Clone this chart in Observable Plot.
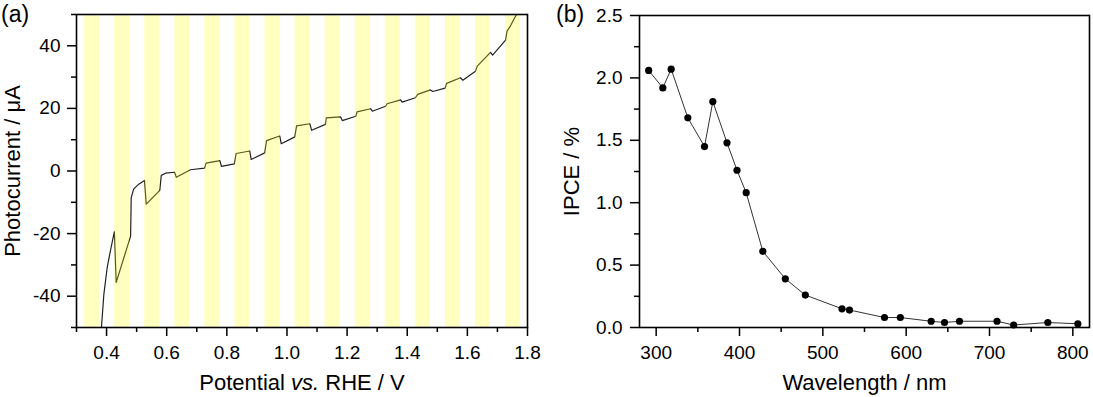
<!DOCTYPE html>
<html>
<head>
<meta charset="utf-8">
<script src="https://cdn.jsdelivr.net/npm/d3@7"></script>
<script src="https://cdn.jsdelivr.net/npm/@observablehq/plot@0.6"></script>
<style>
  body { margin: 0; background: #fff; }
  #wrap { position: relative; width: 1093px; height: 397px; display: flex; font-family: "Liberation Sans", Arial, sans-serif; }
  .panel { position: absolute; top: 1px; font-size: 23px; color: #000; }
</style>
</head>
<body>
<div id="wrap">
  <div id="left"></div>
  <div id="right"></div>
  <div class="panel" style="left:1px">(a)</div>
  <div class="panel" style="left:556px">(b)</div>
</div>
<script>
// ---- Panel (a): chopped photocurrent ----
const potential = [0.383,0.391,0.402,0.413,0.426,0.432,0.480,0.482,0.490,0.507,0.526,0.532,0.577,0.582,0.596,0.626,0.632,0.679,0.726,0.731,0.777,0.782,0.825,0.831,0.876,0.881,0.926,0.932,0.976,0.981,1.026,1.032,1.076,1.082,1.128,1.131,1.178,1.184,1.229,1.233,1.278,1.284,1.328,1.333,1.378,1.383,1.427,1.435,1.477,1.485,1.526,1.531,1.577,1.585,1.627,1.633,1.677,1.684,1.727,1.732,1.743,1.766];
const photocurrent = [-50,-39.4,-30.9,-25.4,-19.4,-35.6,-20.8,-8.5,-5.8,-4.2,-3.0,-10.6,-6.2,-1.4,-0.7,-0.4,-2.0,0.4,0.9,2.5,3.3,1.5,2.3,5.6,6.4,3.7,5.8,9.7,11.2,8.7,10.9,14.4,15.1,13.0,14.9,17.0,17.3,16.1,17.5,18.9,19.9,19.1,20.7,21.5,22.7,22.0,23.4,24.5,25.9,25.4,26.5,28.0,29.8,29.0,31.9,33.5,37.9,37.0,41.8,44.7,46.3,50.5];
const lightOn  = [0.327,0.427,0.527,0.627,0.727,0.827,0.927,1.027,1.127,1.227,1.327,1.427,1.527,1.627,1.727];
const lightOff = [0.377,0.477,0.577,0.677,0.777,0.877,0.977,1.077,1.177,1.277,1.377,1.477,1.577,1.677,1.777];
const xTicksA = [0.4,0.6,0.8,1.0,1.2,1.4,1.6,1.8];
const xMinorA = [0.3,0.5,0.7,0.9,1.1,1.3,1.5,1.7];
const yTicksA = [-40,-20,0,20,40];
const yMinorA = [-50,-30,-10,10,30,50];

// ---- Panel (b): IPCE ----
const wavelength = [291,308,318,338,358,368,385,397,408,428,455,479,523,532,574,593,630,646,664,709,729,770,806];
const ipce = [2.06,1.92,2.07,1.68,1.45,1.81,1.48,1.26,1.08,0.61,0.39,0.26,0.15,0.14,0.08,0.08,0.05,0.04,0.05,0.05,0.02,0.04,0.03];
const xTicksB = [300,400,500,600,700,800];
const xMinorB = [350,450,550,650,750];
const yTicksB = [0,0.5,1.0,1.5,2.0,2.5];
const yMinorB = [0.25,0.75,1.25,1.75,2.25];

const curve = potential.map((v,i) => ({v, i: photocurrent[i]}));
const stripes = lightOn.map((a,i) => ({a, b: lightOff[i]}));
const pts = wavelength.map((w,i) => ({w, p: ipce[i]}));

const font = '"Liberation Sans", Arial, sans-serif';
const common = {style: {fontSize: "19px", fontFamily: font, color: "#000", background: "transparent", overflow: "visible"}};

const left = Plot.plot({
  ...common,
  width: 546, height: 397,
  marginLeft: 76, marginRight: 19, marginTop: 14, marginBottom: 70,
  x: {domain: [0.3, 1.8], labelArrow: "none"},
  y: {domain: [-50, 50], labelArrow: "none"},
  marks: [
    Plot.line(curve, {x: "v", y: "i", stroke: "#222", strokeWidth: 1.2, clip: true}),
    Plot.rect(stripes, {x1: "a", x2: "b", fill: "#ffff00", fillOpacity: 0.25}),
    Plot.axisX({ticks: xTicksA, tickSize: 9, tickPadding: 9, strokeWidth: 1.5, tickFormat: d => d.toFixed(1),
      label: "Potential vs. RHE / V", labelArrow: "none", labelAnchor: "center", labelOffset: 62}),
    Plot.axisX({ticks: xMinorA, tickSize: 5, strokeWidth: 1.5, tickFormat: () => "", label: null}),
    Plot.axisY({ticks: yTicksA, tickSize: 9, tickPadding: 7, strokeWidth: 1.5, tickFormat: d => String(d),
      label: "Photocurrent / μA", labelArrow: "none", labelAnchor: "center", labelOffset: 72}),
    Plot.axisY({ticks: yMinorA, tickSize: 5, strokeWidth: 1.5, tickFormat: () => "", label: null}),
    Plot.frame({stroke: "#000", strokeWidth: 1.6})
  ]
});

const right = Plot.plot({
  ...common,
  width: 547, height: 397,
  marginLeft: 93, marginRight: 4, marginTop: 15, marginBottom: 70,
  x: {domain: [280, 820], labelArrow: "none"},
  y: {domain: [0, 2.5], labelArrow: "none"},
  marks: [
    Plot.line(pts, {x: "w", y: "p", stroke: "#333", strokeWidth: 1}),
    Plot.dot(pts, {x: "w", y: "p", r: 3.6, fill: "#000", stroke: "none"}),
    Plot.axisX({ticks: xTicksB, tickSize: 9, tickPadding: 9, strokeWidth: 1.5, tickFormat: d => String(d),
      label: "Wavelength / nm", labelArrow: "none", labelAnchor: "center", labelOffset: 62}),
    Plot.axisX({ticks: xMinorB, tickSize: 5, strokeWidth: 1.5, tickFormat: () => "", label: null}),
    Plot.axisY({ticks: yTicksB, tickSize: 9, tickPadding: 8, strokeWidth: 1.5, tickFormat: d => d.toFixed(1),
      label: "IPCE / %", labelArrow: "none", labelAnchor: "center", labelOffset: 76}),
    Plot.axisY({ticks: yMinorB, tickSize: 5, strokeWidth: 1.5, tickFormat: () => "", label: null}),
    Plot.frame({stroke: "#000", strokeWidth: 1.6})
  ]
});

document.getElementById("left").appendChild(left);
document.getElementById("right").appendChild(right);

// tidy axis labels: strip any arrow, enlarge, italicise "vs."
const ns = "http://www.w3.org/2000/svg";
for (const svg of [left, right]) {
  for (const t of svg.querySelectorAll("text")) {
    const s = t.textContent.replace(/\s*[→←↑↓]\s*/g, "");
    if (s.includes(" / ")) {
      t.setAttribute("font-size", "22");
      t.style.fontSize = "22px";
      if (s === "Potential vs. RHE / V") {
        t.textContent = "";
        for (const [part, st] of [["Potential ", null], ["vs.", "italic"], [" RHE / V", null]]) {
          const sp = document.createElementNS(ns, "tspan");
          sp.textContent = part;
          if (st) sp.setAttribute("font-style", st);
          t.appendChild(sp);
        }
      } else {
        t.textContent = s;
      }
    }
  }
}
</script>
</body>
</html>
